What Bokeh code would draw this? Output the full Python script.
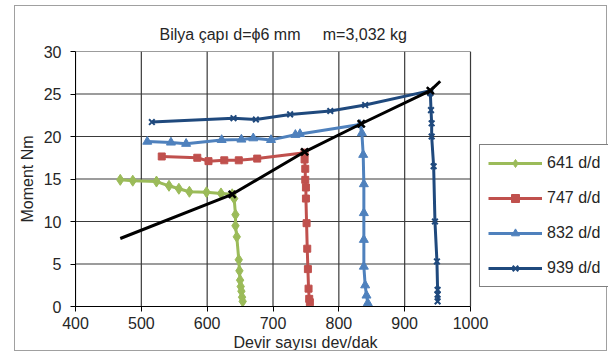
from bokeh.plotting import figure
from bokeh.models import Legend, LegendItem, Title, FixedTicker
from bokeh.embed import file_html
from bokeh.resources import INLINE

# ---- data ----
x_ticks = [400, 500, 600, 700, 800, 900, 1000]
y_ticks = [0, 5, 10, 15, 20, 25, 30]

green_x = [468, 487, 523, 542, 557, 573, 599, 621, 638, 641, 643, 643, 645, 648, 649, 650, 651, 652, 653, 654]
green_y = [14.9, 14.8, 14.7, 14.2, 13.85, 13.5, 13.45, 13.3, 13.2, 12.7, 10.8, 9.5, 8.2, 5.5, 4.2, 3.1, 2.35, 1.8, 1.1, 0.6]

red_x = [531, 585, 602, 626, 648, 676, 748, 748, 749, 749, 750, 750, 751, 752, 753, 754, 755, 756]
red_y = [17.65, 17.5, 17.1, 17.2, 17.2, 17.4, 18.1, 17.3, 16.2, 14.9, 14.0, 12.7, 9.8, 6.8, 4.4, 2.1, 0.9, 0.5]

blue_x = [509, 545, 568, 622, 652, 670, 697, 734, 741, 832, 835, 837, 838, 838, 838, 838, 840, 842, 844]
blue_y = [19.4, 19.3, 19.15, 19.6, 19.65, 19.8, 19.6, 20.2, 20.3, 21.4, 20.4, 17.85, 14.4, 11.0, 7.85, 4.7, 2.5, 1.3, 0.4]

navy_x = [516, 640, 674, 726, 787, 840, 939, 939, 940, 941, 941, 944, 946, 949, 950, 950, 950]
navy_y = [21.7, 22.15, 22.0, 22.6, 23.0, 23.7, 25.4, 25.1, 23.1, 21.55, 20.0, 16.5, 10.0, 5.3, 1.96, 1.4, 0.6]

black_x = [468, 638, 748, 834, 939, 954]
black_y = [8.0, 13.2, 18.2, 21.5, 25.4, 26.5]
cross_x = [638, 748, 834, 939]
cross_y = [13.2, 18.2, 21.5, 25.4]

labels = ["641 d/d", "747 d/d", "832 d/d", "939 d/d"]
title_text = "Bilya çapı d=ϕ6 mm\u00a0\u00a0\u00a0\u00a0 m=3,032 kg"
x_title = "Devir sayısı dev/dak"
y_title = "Moment Nm"

FONT = "Liberation Sans"
FS = "16px"
TXT = "#262626"
GRID = "#3a3a3a"
GREEN, RED, BLUE, NAVY = "#9BBB59", "#C0504D", "#4F81BD", "#1F497D"

# the frame is widened to the right so that the legend can sit inside it;
# axis and grid stop at the last x tick
X_VIEW_END = 1209.6

p = figure(width=593, height=346, x_range=(x_ticks[0], X_VIEW_END), y_range=(y_ticks[0], y_ticks[-1]),
           output_backend="svg", toolbar_location=None,
           min_border_left=59, min_border_right=0,
           min_border_top=45, min_border_bottom=46,
           margin=(5, 0, 0, 14))
p.outline_line_color = None
p.background_fill_color = "white"
p.border_fill_color = "white"
p.styles = {"border": "1px solid #a0a0a0"}
p.xgrid.visible = False
p.ygrid.visible = False

for ax in (p.xaxis[0], p.yaxis[0]):
    ax.axis_line_color = "black"
    ax.major_tick_line_color = "black"
    ax.major_tick_in = 0
    ax.major_tick_out = 5
    ax.minor_tick_line_color = None
    ax.major_label_text_font = FONT
    ax.major_label_text_font_size = FS
    ax.major_label_text_color = TXT

p.xaxis.ticker = FixedTicker(ticks=x_ticks)
p.yaxis.ticker = FixedTicker(ticks=y_ticks)
p.xaxis.bounds = (x_ticks[0], x_ticks[-1])
p.xaxis.major_label_standoff = 5
p.yaxis.major_label_standoff = 9
p.yaxis.axis_label = y_title
p.yaxis.axis_label_text_font = FONT
p.yaxis.axis_label_text_font_size = FS
p.yaxis.axis_label_text_font_style = "normal"
p.yaxis.axis_label_text_color = TXT
p.yaxis.axis_label_standoff = 5

# grid lines drawn from the tick lists (including the top and right edges)
nx, ny = len(x_ticks), len(y_ticks)
p.segment(x0=x_ticks, y0=[y_ticks[0]] * nx, x1=x_ticks, y1=[y_ticks[-1]] * nx,
          line_color=GRID, line_width=1.2)
p.segment(x0=[x_ticks[0]] * ny, y0=y_ticks, x1=[x_ticks[-1]] * ny, y1=y_ticks,
          line_color=GRID, line_width=1.2)

LW = 3
items = []
r_l = p.line(green_x, green_y, line_color=GREEN, line_width=LW)
r_m = p.scatter(green_x, green_y, marker="diamond", size=11, fill_color=GREEN, line_color=GREEN)
items.append(LegendItem(label=labels[0], renderers=[r_l, r_m]))

r_l = p.line(red_x, red_y, line_color=RED, line_width=LW)
r_m = p.scatter(red_x, red_y, marker="square", size=7, fill_color=RED, line_color=RED)
items.append(LegendItem(label=labels[1], renderers=[r_l, r_m]))

r_l = p.line(blue_x, blue_y, line_color=BLUE, line_width=LW)
r_m = p.scatter(blue_x, blue_y, marker="triangle", size=9, fill_color=BLUE, line_color=BLUE)
items.append(LegendItem(label=labels[2], renderers=[r_l, r_m]))

r_l = p.line(navy_x, navy_y, line_color=NAVY, line_width=LW)
r_m = p.scatter(navy_x, navy_y, marker="x", size=8, line_color=NAVY, line_width=2)
items.append(LegendItem(label=labels[3], renderers=[r_l, r_m]))

p.line(black_x, black_y, line_color="black", line_width=LW)
p.scatter(cross_x, cross_y, marker="x", size=10, line_color="black", line_width=2.5)

legend = Legend(items=items, location=(404, 19))
legend.label_text_font = FONT
legend.label_text_font_size = FS
legend.label_text_color = TXT
legend.glyph_width = 54
legend.glyph_height = 20
legend.label_height = 20
legend.label_standoff = 5
legend.spacing = 15
legend.padding = 8
legend.margin = 0
legend.border_line_color = "black"
legend.border_line_width = 1
legend.background_fill_color = "white"
legend.background_fill_alpha = 1
p.add_layout(legend, "center")

p.add_layout(Title(text=title_text, align="left", offset=84, standoff=17,
                   text_font=FONT, text_font_size=FS, text_font_style="normal",
                   text_color=TXT), "above")
p.add_layout(Title(text=x_title, align="left", offset=158, standoff=0,
                   text_font=FONT, text_font_size=FS, text_font_style="normal",
                   text_color=TXT), "below")

open("out.html", "w").write(file_html(p, INLINE))
